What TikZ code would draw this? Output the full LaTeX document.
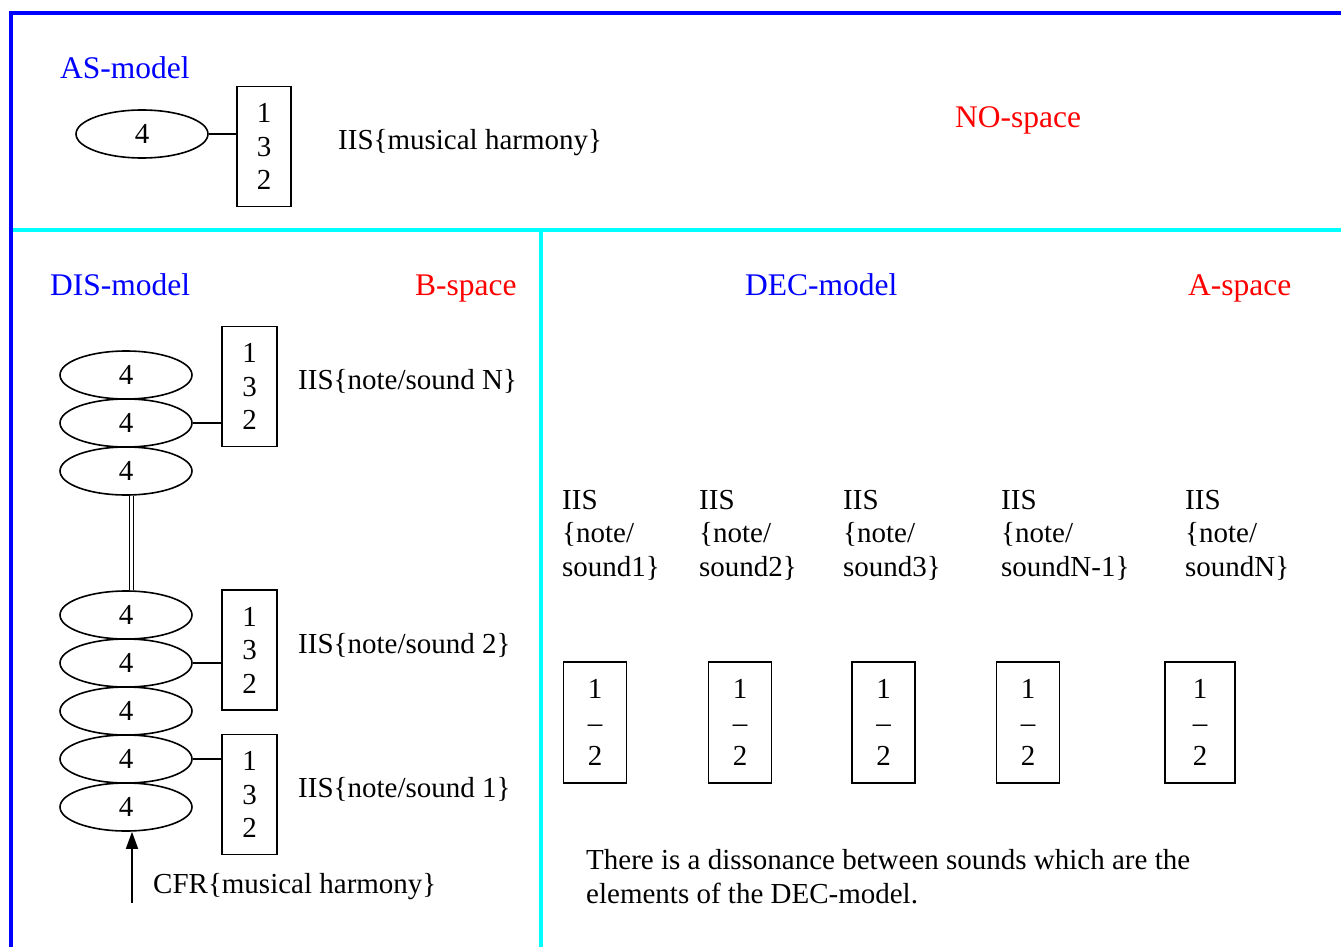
\documentclass[tikz,border=0pt]{standalone}
\usepackage{fontspec}
\setmainfont{Liberation Serif}
\usetikzlibrary{shapes.geometric,positioning,arrows.meta}

\definecolor{frameblue}{RGB}{0,0,255}
\definecolor{splitcyan}{RGB}{0,255,255}

\tikzset{
  oval/.style={draw, ellipse, line width=1.6pt, minimum width=132pt, minimum height=48pt, inner sep=0pt},
  tribox/.style={draw, line width=1.6pt, minimum width=55pt, minimum height=120pt, inner sep=0pt, align=center},
  duobox/.style={draw, line width=1.6pt, minimum width=63pt, minimum height=121pt, inner sep=0pt, align=center},
  label/.style={anchor=base west, inner sep=0pt},
  modellabel/.style={label, text=frameblue, font=\fontsize{31.5}{36}\selectfont},
  spacelabel/.style={label, text=red, font=\fontsize{31.5}{36}\selectfont},
  link/.style={line width=1.6pt}
}

\begin{document}
\begin{tikzpicture}[x=1pt, y=-1pt, font=\fontsize{29}{33.5}\selectfont]
  \useasboundingbox (0,0) rectangle (1341,947);
  % Frame and dividers
  \draw[frameblue, line width=4pt] (9,13) -- (1341,13);
  \draw[frameblue, line width=4pt] (11,11) -- (11,947);
  \draw[splitcyan, line width=4pt] (13,230) -- (1341,230);
  \draw[splitcyan, line width=4pt] (541,230) -- (541,947);

  % AS-model
  \node[modellabel] (asmodel) at (60,78.5) {AS-model};
  \node[spacelabel] (nospace) at (955,127.5) {NO-space};
  \node[oval] (as) at (142,134) {4};
  \node[tribox, minimum width=54pt] (asbox) at (264,146.5) {1\\3\\2};
  \draw[link] (as.east) -- (as.east -| asbox.west);
  \node[label] (asiis) at (338,149.5) {IIS\{musical harmony\}};

  % DIS-model
  \node[modellabel] (dismodel) at (50,295) {DIS-model};
  \node[spacelabel] (bspace) at (415,295) {B-space};
  \foreach \y [count=\i] in {375,423,471}
    \node[oval] (u\i) at (126,\y) {4};
  \foreach \y [count=\i] in {615,663,711,759,807}
    \node[oval] (l\i) at (126,\y) {4};
  \draw[line width=1pt, double, double distance=3pt] ([xshift=5pt]u3.south) -- ([xshift=5pt]l1.north);

  \node[tribox] (boxN) at (249.5,386.5) {1\\3\\2};
  \node[tribox] (box2) at (249.5,650) {1\\3\\2};
  \node[tribox] (box1) at (249.5,794.5) {1\\3\\2};
  \draw[link] (u2.east) -- (u2.east -| boxN.west);
  \draw[link] (l2.east) -- (l2.east -| box2.west);
  \draw[link] (l4.east) -- (l4.east -| box1.west);
  \node[label] (iisN) at (298,389) {IIS\{note/sound N\}};
  \node[label] (iis2) at (298,653) {IIS\{note/sound 2\}};
  \node[label] (iis1) at (298,797) {IIS\{note/sound 1\}};

  % CFR arrow
  \coordinate (cfrfoot) at (132,903);
  \draw[link, -{Triangle[length=17pt, width=12pt]}] (cfrfoot) -- (cfrfoot |- l5.south);
  \node[label] (cfr) at (153,893) {CFR\{musical harmony\}};

  % DEC-model
  \node[modellabel] (decmodel) at (745,295) {DEC-model};
  \node[spacelabel] (aspace) at (1188,295) {A-space};
  \foreach \x/\s [count=\i] in {562/sound1\}, 699/sound2\}, 843/sound3\}, 1001/soundN-1\}, 1185/soundN\}}
    \node[label, align=left] (deciis\i) at (\x,576) {IIS\\\{note/\\\s};
  \foreach \x [count=\i] in {595,740,883.5,1028}
    \node[duobox] (dec\i) at (\x,722.5) {1\\--\\2};
  \node[duobox, minimum width=70pt] (dec5) at (1200,722.5) {1\\--\\2};

  \node[label, align=left] (dissonance) at (586,903) {There is a dissonance between sounds which are the\\elements of the DEC-model.};
\end{tikzpicture}
\end{document}
